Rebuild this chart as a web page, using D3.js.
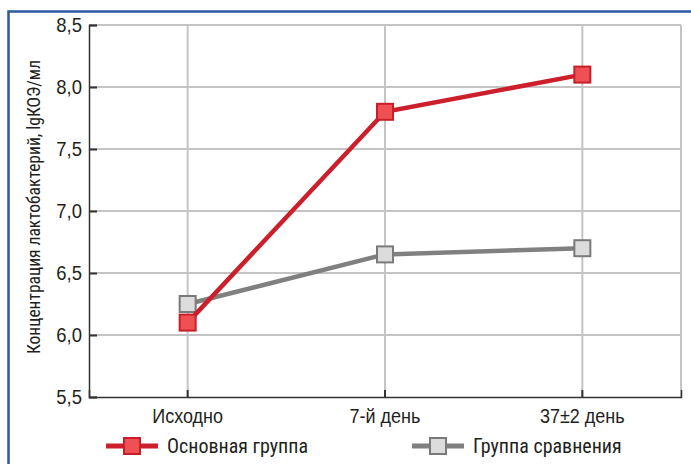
<!DOCTYPE html>
<html><head><meta charset="utf-8">
<script src="https://cdn.jsdelivr.net/npm/d3@7"></script>
<style>
body{margin:0;background:#fff;}
svg{display:block;}
text{font-family:"Liberation Sans Narrow","Roboto Condensed","Liberation Sans",sans-serif;fill:#231f20;}
</style></head>
<body>
<svg id="chart" width="691" height="464"></svg>
<script>
const categories = ["Исходно", "7-й день", "37±2 день"];
const mainGroup = [6.1, 7.8, 8.1];
const compGroup = [6.25, 6.65, 6.7];
const yTicks = [5.5, 6.0, 6.5, 7.0, 7.5, 8.0, 8.5];
const seriesNames = ["Основная группа", "Группа сравнения"];
const yLabel = "Концентрация лактобактерий, lgКОЭ/мл";

const svg = d3.select("#chart");
const W = 691, H = 464;
const m = {left: 89, right: 10, top: 25, bottom: 67};
const x = d3.scaleBand().domain(categories).range([m.left, W - m.right]);
const y = d3.scaleLinear().domain([5.5, 8.5]).range([H - m.bottom, m.top]);
const fmt = d => d3.format(".1f")(d).replace(".", ",");

// blue frame
svg.append("path").attr("d", `M8.5,${H+5} V11.5 H${W+5}`).attr("fill","none")
  .attr("stroke","#2a5aa0").attr("stroke-width",2.5);

// grid
svg.append("g").selectAll("line").data(yTicks.slice(1)).join("line")
  .attr("x1", m.left).attr("x2", W - m.right)
  .attr("y1", d => y(d)).attr("y2", d => y(d))
  .attr("stroke","#c4c4c4").attr("stroke-width",2);
svg.append("g").selectAll("line").data(categories).join("line")
  .attr("x1", d => x(d) + x.bandwidth()/2).attr("x2", d => x(d) + x.bandwidth()/2)
  .attr("y1", y(8.5)).attr("y2", y(5.5))
  .attr("stroke","#c4c4c4").attr("stroke-width",2);
// right border
svg.append("line").attr("x1", W - m.right).attr("x2", W - m.right)
  .attr("y1", y(8.5)).attr("y2", y(5.5)).attr("stroke","#c4c4c4").attr("stroke-width",2);

// axes
const yAxis = d3.axisLeft(y).tickValues(yTicks).tickFormat(fmt).tickSize(-8).tickPadding(7);
const gy = svg.append("g").attr("transform", `translate(${m.left},0)`).call(yAxis);
gy.select(".domain").attr("stroke","#333").attr("stroke-width",1.5);
gy.selectAll(".tick line").attr("stroke","#333").attr("stroke-width",2);
gy.selectAll(".tick text").attr("font-size",20.5).attr("fill","#231f20")
  .attr("x", -7/0.9).attr("transform","scale(0.9,1)")
  .style("font-family",'"Liberation Sans Narrow",sans-serif');

const xAxis = d3.axisBottom(x).tickSize(-7).tickPadding(12);
const gx = svg.append("g").attr("transform", `translate(0,${H - m.bottom})`).call(xAxis);
gx.select(".domain").attr("stroke","#333").attr("stroke-width",1.5);
gx.selectAll(".tick line").attr("stroke","#333").attr("stroke-width",2);
gx.selectAll(".tick text").attr("font-size",20).attr("fill","#231f20")
  .attr("transform","scale(0.9,1)")
  .style("font-family",'"Liberation Sans Narrow",sans-serif');

// y label
svg.append("text").attr("transform", `translate(40,${(y(5.5)+y(8.5))/2 - 4}) rotate(-90)`)
  .attr("text-anchor","middle").attr("font-size",17.5).text(yLabel);

const series = [
  {name: seriesNames[1], values: compGroup, line:"#808080", fill:"#dcdcdc", stroke:"#7a7a7a"},
  {name: seriesNames[0], values: mainGroup, line:"#cc1f2b", fill:"#ee5054", stroke:"#c81e28"}
];
const line = d3.line().x((d,i) => x(categories[i]) + x.bandwidth()/2).y(d => y(d));
const sz = 16;
series.forEach(s => {
  svg.append("path").datum(s.values).attr("d", line).attr("fill","none")
    .attr("stroke", s.line).attr("stroke-width",4.5);
  svg.append("g").selectAll("rect").data(s.values).join("rect")
    .attr("x", (d,i) => x(categories[i]) + x.bandwidth()/2 - sz/2)
    .attr("y", d => y(d) - sz/2).attr("width", sz).attr("height", sz)
    .attr("fill", s.fill).attr("stroke", s.stroke).attr("stroke-width",2);
});

// legend
const leg = [
  {s: series[1], x0: 106},
  {s: series[0], x0: 412}
];
leg.forEach(l => {
  const g = svg.append("g");
  const cy = 446;
  g.append("line").attr("x1", l.x0).attr("x2", l.x0 + 52).attr("y1", cy).attr("y2", cy)
    .attr("stroke", l.s.line).attr("stroke-width",5);
  g.append("rect").attr("x", l.x0 + 26 - 8).attr("y", cy - 8).attr("width", 16).attr("height", 16)
    .attr("fill", l.s.fill).attr("stroke", l.s.stroke).attr("stroke-width",2);
  g.append("text").attr("x", l.x0 + 61).attr("y", cy + 7).attr("font-size",20).text(l.s.name);
});
</script>
</body></html>
